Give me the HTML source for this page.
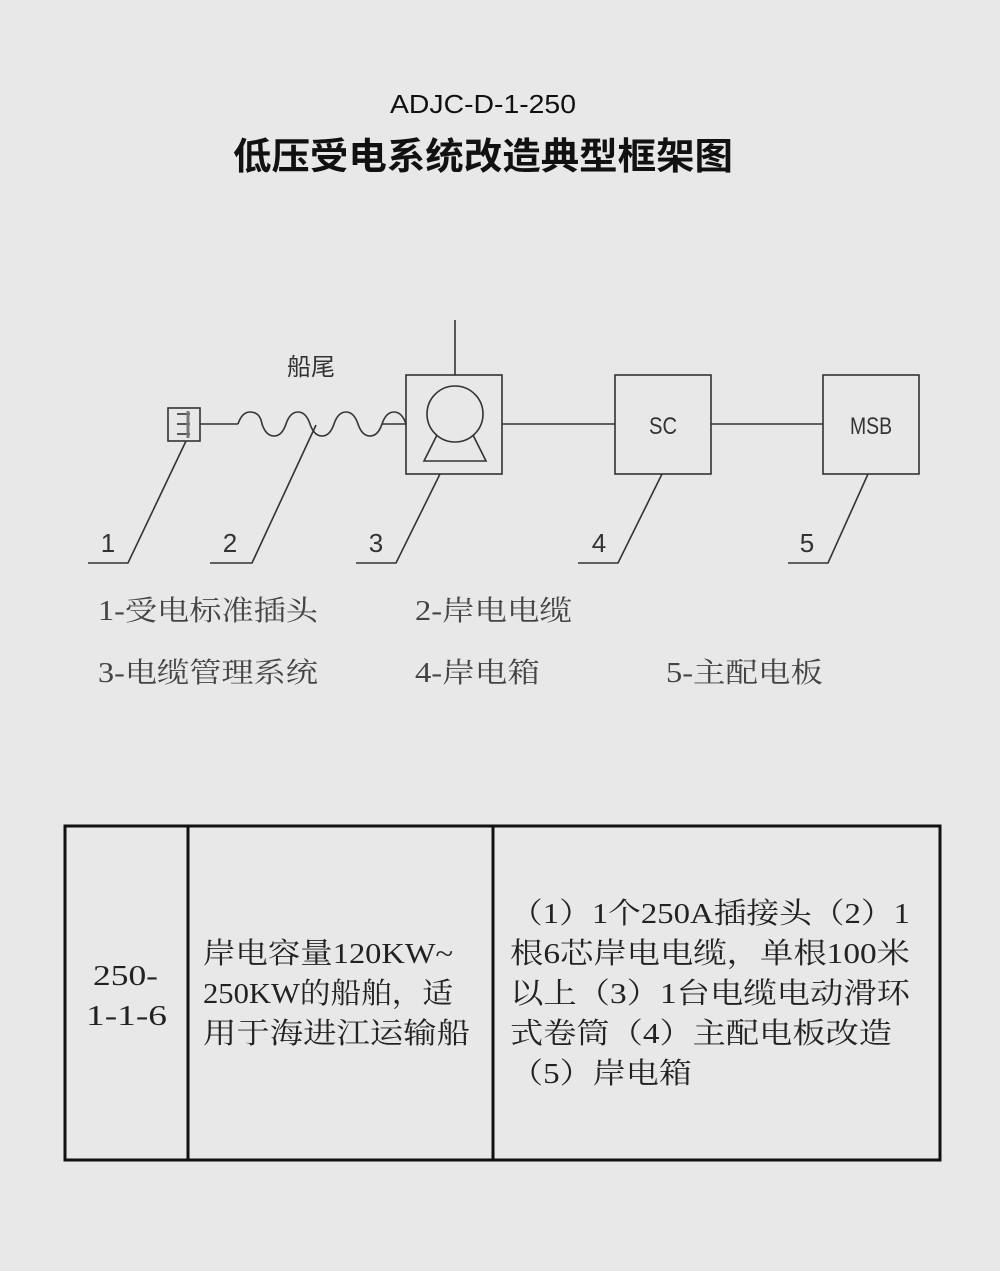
<!DOCTYPE html>
<html><head><meta charset="utf-8"><style>
html,body{margin:0;padding:0;background:#e8e8e8;}
svg{display:block;}
</style></head><body>
<svg width="1000" height="1271" viewBox="0 0 1000 1271" xmlns="http://www.w3.org/2000/svg">
<rect width="1000" height="1271" fill="#e8e8e8"/>
<text x="483" y="113" font-family="Liberation Sans, sans-serif" font-size="26" text-anchor="middle" fill="#111" textLength="186" lengthAdjust="spacingAndGlyphs">ADJC-D-1-250</text>
<text x="483" y="169" font-family="Liberation Sans, 'Noto Sans CJK SC', sans-serif" font-size="37" font-weight="bold" text-anchor="middle" fill="#111" textLength="500" lengthAdjust="spacingAndGlyphs">低压受电系统改造典型框架图</text>

<g stroke="#333" stroke-width="1.6" fill="none">
  <rect x="168" y="408" width="32" height="33"/>
  <line x1="177" y1="414" x2="190" y2="414"/><line x1="177" y1="424" x2="190" y2="424"/><line x1="177" y1="434" x2="190" y2="434"/>
  <line x1="188" y1="411" x2="188" y2="438" stroke-width="3" stroke="#777"/>
  <line x1="200" y1="424" x2="238" y2="424"/>
  <path d="M238 424 q4 -12 12 -12 q10 0 12 12 q4 12 12 12 q8 0 12 -12 q4 -12 12 -12 q8 0 12 12 q4 12 12 12 q8 0 12 -12 q4 -12 12 -12 q8 0 12 12 q4 12 12 12 q8 0 12 -12 q4 -12 12 -12 q8 0 12 12"/>
  <line x1="382" y1="424" x2="406" y2="424"/>
  <rect x="406" y="375" width="96" height="99"/>
  <line x1="455" y1="320" x2="455" y2="375"/>
  <circle cx="455" cy="414" r="28"/>
  <path d="M437 435 L424 461 L486 461 L473 435"/>
  <line x1="502" y1="424" x2="615" y2="424"/>
  <rect x="615" y="375" width="96" height="99"/>
  <line x1="711" y1="424" x2="823" y2="424"/>
  <rect x="823" y="375" width="96" height="99"/>
  <polyline points="186,441 128,563 88,563"/>
  <polyline points="316,425 252,563 210,563"/>
  <polyline points="440,474 396,563 356,563"/>
  <polyline points="662,474 618,563 578,563"/>
  <polyline points="868,474 828,563 788,563"/>
</g>
<g font-family="Liberation Sans, sans-serif" font-size="24" fill="#333" text-anchor="middle">
  <text x="663" y="434" textLength="28" lengthAdjust="spacingAndGlyphs">SC</text>
  <text x="871" y="434" textLength="42" lengthAdjust="spacingAndGlyphs">MSB</text>
  <text x="108" y="552" font-size="26">1</text>
  <text x="230" y="552" font-size="26">2</text>
  <text x="376" y="552" font-size="26">3</text>
  <text x="599" y="552" font-size="26">4</text>
  <text x="807" y="552" font-size="26">5</text>
</g>
<text x="311" y="375" font-family="'Noto Sans CJK SC', sans-serif" font-size="24" fill="#333" text-anchor="middle">船尾</text>

<g font-family="Liberation Serif, 'Noto Serif CJK SC', serif" font-size="28" fill="#444">
  <text x="98" y="620" textLength="220" lengthAdjust="spacingAndGlyphs">1-受电标准插头</text>
  <text x="415" y="620" textLength="157" lengthAdjust="spacingAndGlyphs">2-岸电电缆</text>
  <text x="98" y="682" textLength="220" lengthAdjust="spacingAndGlyphs">3-电缆管理系统</text>
  <text x="415" y="682" textLength="125" lengthAdjust="spacingAndGlyphs">4-岸电箱</text>
  <text x="666" y="682" textLength="157" lengthAdjust="spacingAndGlyphs">5-主配电板</text>
</g>

<g stroke="#111" stroke-width="3" fill="none">
  <rect x="65" y="826" width="875" height="334"/>
  <line x1="188" y1="826" x2="188" y2="1160"/>
  <line x1="493" y1="826" x2="493" y2="1160"/>
</g>
<g font-family="Liberation Serif, 'Noto Serif CJK SC', serif" font-size="29" fill="#222">
  <text x="93" y="985" textLength="65" lengthAdjust="spacingAndGlyphs">250-</text>
  <text x="86" y="1025" textLength="81" lengthAdjust="spacingAndGlyphs">1-1-6</text>
  <text x="203" y="963" textLength="250" lengthAdjust="spacingAndGlyphs">岸电容量120KW~</text>
  <text x="203" y="1003" textLength="250" lengthAdjust="spacingAndGlyphs">250KW的船舶，适</text>
  <text x="203" y="1043" textLength="267" lengthAdjust="spacingAndGlyphs">用于海进江运输船</text>
  <text x="510" y="923" textLength="400" lengthAdjust="spacingAndGlyphs">（1）1个250A插接头（2）1</text>
  <text x="510" y="963" textLength="400" lengthAdjust="spacingAndGlyphs">根6芯岸电电缆，单根100米</text>
  <text x="510" y="1003" textLength="400" lengthAdjust="spacingAndGlyphs">以上（3）1台电缆电动滑环</text>
  <text x="510" y="1043" textLength="382" lengthAdjust="spacingAndGlyphs">式卷筒（4）主配电板改造</text>
  <text x="510" y="1083" textLength="182" lengthAdjust="spacingAndGlyphs">（5）岸电箱</text>
</g>
</svg>
</body></html>
